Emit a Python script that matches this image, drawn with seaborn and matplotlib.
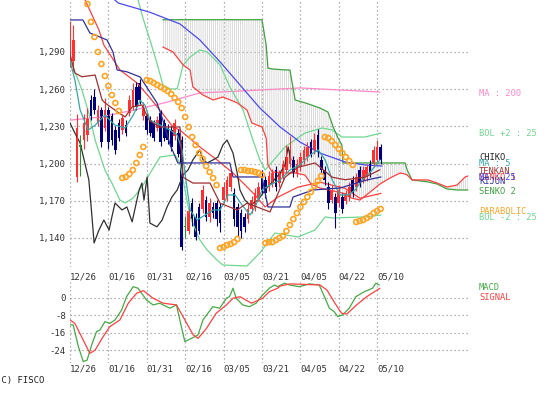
import matplotlib
matplotlib.use("Agg")
import matplotlib.pyplot as plt
import seaborn as sns
import numpy as np

# ---------------- data ----------------
dates = ['12/26', '01/16', '01/31', '02/16', '03/05', '03/21', '04/05', '04/22', '05/10']
date_pos = [0, 11, 22, 33, 44, 55, 66, 77, 88]

# candles: open, close, high, low, colour code (r=up, b=down, g=doji)
c_open = [1290, 1283, 1189, 1215, 1219, 1223, 1251, 1254, 1233, 1243,
          1229, 1243, 1238, 1227, 1233, 1227, 1231, 1241, 1246, 1262,
          1265, 1238, 1238, 1235, 1233, 1229, 1241, 1233, 1229, 1227,
          1222, 1225, 1219, 1150, 1146, 1168, 1157, 1165, 1163, 1171,
          1157, 1165, 1168, 1165, 1171, 1173, 1181, 1176, 1165, 1160,
          1157, 1155, 1163, 1165, 1173, 1189, 1187, 1181, 1184, 1195,
          1184, 1189, 1195, 1200, 1203, 1192, 1197, 1203, 1205, 1217,
          1211, 1223, 1203, 1195, 1181, 1171, 1173, 1168, 1173, 1170,
          1173, 1187, 1181, 1195, 1187, 1189, 1200, 1200, 1203, 1213]
c_close = [1296, 1300, 1229, 1213, 1233, 1237, 1238, 1243, 1243, 1217,
           1243, 1217, 1219, 1211, 1221, 1237, 1225, 1251, 1259, 1246,
           1251, 1246, 1227, 1225, 1221, 1235, 1217, 1221, 1219, 1213,
           1233, 1208, 1133, 1149, 1162, 1155, 1141, 1146, 1179, 1157,
           1168, 1160, 1155, 1152, 1181, 1187, 1192, 1155, 1149, 1146,
           1149, 1163, 1171, 1176, 1181, 1179, 1176, 1190, 1192, 1181,
           1192, 1200, 1205, 1211, 1192, 1200, 1205, 1211, 1213, 1208,
           1219, 1209, 1195, 1187, 1168, 1179, 1160, 1179, 1163, 1176,
           1181, 1176, 1189, 1184, 1195, 1197, 1192, 1211, 1213, 1203]
c_high = [1315, 1312, 1240, 1223, 1240, 1245, 1255, 1260, 1247, 1246,
          1253, 1246, 1241, 1230, 1236, 1240, 1235, 1255, 1265, 1266,
          1268, 1250, 1241, 1238, 1235, 1238, 1243, 1236, 1232, 1230,
          1236, 1228, 1222, 1158, 1167, 1172, 1160, 1168, 1183, 1174,
          1172, 1169, 1171, 1168, 1185, 1190, 1196, 1180, 1168, 1163,
          1160, 1167, 1174, 1180, 1185, 1195, 1190, 1194, 1196, 1198,
          1195, 1203, 1215, 1222, 1206, 1204, 1209, 1214, 1217, 1220,
          1225, 1228, 1206, 1198, 1185, 1183, 1176, 1183, 1176, 1179,
          1185, 1190, 1192, 1198, 1198, 1200, 1203, 1214, 1219, 1216]
c_low = [1278, 1275, 1185, 1190, 1212, 1218, 1235, 1240, 1230, 1213,
         1226, 1212, 1215, 1208, 1218, 1224, 1222, 1238, 1243, 1243,
         1248, 1235, 1224, 1222, 1218, 1226, 1214, 1218, 1216, 1210,
         1219, 1205, 1130, 1140, 1143, 1150, 1138, 1143, 1160, 1154,
         1153, 1156, 1150, 1145, 1168, 1170, 1178, 1150, 1142, 1140,
         1145, 1152, 1160, 1162, 1170, 1176, 1172, 1178, 1181, 1178,
         1181, 1186, 1192, 1197, 1189, 1189, 1194, 1200, 1202, 1205,
         1208, 1205, 1192, 1183, 1163, 1168, 1148, 1165, 1160, 1167,
         1170, 1173, 1178, 1181, 1184, 1186, 1189, 1197, 1200, 1200]
c_kind = list("rrrgrrbbrbrbbbbrbrrbbrbbbrbbbbrbbgrbbbrbrbbbrrrbbbbrrrrbbrrbrrrrbrrrrbrbbbbrbrbrrbrbrrbrrb")

# moving average 200 (pink)
ma200_x = [0, 8.6, 18.1, 27.8, 37.2, 43.0, 54.4, 65.9, 77.4, 88.8]
ma200_y = [1235, 1237.5, 1243, 1249.5, 1257, 1257.7, 1259.3, 1261, 1259.3, 1257.7]

# long moving average (blue)
ma25_x = [12.0, 13.8, 22.9, 31.5, 37.2, 43.0, 48.7, 54.4, 60.2, 65.9, 71.6, 78.8, 84.5, 89.4]
ma25_y = [1334, 1329.5, 1322, 1312.6, 1299.7, 1282, 1263.4, 1244.8, 1229.5, 1217.4, 1208.5, 1201.3, 1198.9, 1198]

# second red average line
red_x = [4.3, 8.3, 9.7, 14.3, 19.2, 22.9, 26.4, 29.5, 31.5, 37.2, 42.1, 46.7, 49.6, 53.0, 55.9,
         59.6, 65.3, 71.6, 78.8, 83.1, 89.1]
red_y = [1332, 1307.7, 1295.6, 1275.5, 1265, 1253, 1240.8, 1229.5, 1227, 1213.4, 1203, 1192.4,
         1184.3, 1174.7, 1165, 1173, 1181, 1185, 1180, 1172, 1176]

# MA 5 (teal)
ma5_x = [-0.3, 1.4, 2.9, 5.2, 7.2, 10.0, 12.9, 15.8, 18.1, 20.1, 21.5, 22.9, 25.8, 28.7, 30.7,
         32.1, 33.2, 34.4, 36.4, 38.7, 41.0, 43.0, 45.3, 47.3, 49.3, 51.6, 53.3, 55.0, 57.3,
         60.2, 63.0, 65.9, 68.8, 71.1, 73.1, 75.1, 77.4, 79.7, 81.7, 83.7, 86.0, 88.8]
ma5_y = [1286, 1267.4, 1243.2, 1227, 1231, 1239, 1231, 1228.7, 1239, 1251, 1247, 1235, 1231,
         1227, 1223, 1211, 1187, 1162.6, 1154.5, 1158.5, 1162.6, 1162.6, 1174.7, 1174.7, 1166.6,
         1158.5, 1166.6, 1178.7, 1182.7, 1186.8, 1194.8, 1199, 1207, 1211, 1203, 1187, 1174.7,
         1174.7, 1178.7, 1187, 1193, 1203]

# ichimoku: tenkan, kijun, chiko
tenkan_x = [-0.3, 1.4, 3.4, 7.2, 9.2, 10.0, 14.0, 15.8, 17.8, 20.6, 22.6, 25.5, 31.5, 32.4, 35.2,
            40.1, 43.0, 47.9, 50.7, 53.6, 57.3, 61.6, 65.3, 70.2, 75.1, 78.8, 84.5, 88.8]
tenkan_y = [1291.6, 1273, 1270, 1271.4, 1251.3, 1249, 1240.8, 1237.6, 1245.6, 1247.3, 1235.2,
            1229.5, 1229.5, 1189, 1184.3, 1184.3, 1168, 1162.6, 1168, 1165, 1161, 1189, 1197,
            1200.5, 1189, 1187, 1189, 1195]
kijun_x = [0, 3.7, 5.7, 8.6, 10.6, 12.3, 13.5, 16.3, 20.1, 24.9, 26.6, 28.7, 30.9, 45.8, 46.7,
           55.0, 56.7, 63.0, 63.9, 69.6, 77.4, 85.1, 89.1]
kijun_y = [1315.8, 1315.8, 1305.3, 1302, 1299.7, 1290, 1275.5, 1274, 1269.8, 1249, 1235.2, 1215,
           1200.5, 1200.5, 1189.2, 1189.2, 1165, 1165, 1173, 1178.7, 1180.3, 1186.8, 1189.2]
chiko_x = [0, 1.4, 2.9, 5.4, 6.3, 6.9, 8.3, 9.7, 11.2, 12.0, 12.9, 14.9, 16.3, 17.8, 19.8, 20.6,
           21.2, 22.1, 22.9, 24.9, 26.4, 27.8, 29.2, 30.7, 32.4, 33.8, 35.2, 37.2, 38.1, 39.3,
           41.0, 42.4, 43.8, 45.0, 46.7, 47.9, 48.7, 50.1, 51.6, 53.9, 55.9, 57.9, 60.2, 61.6,
           62.5, 63.3]
chiko_y = [1232.7, 1224.6, 1216.6, 1186.8, 1157, 1136, 1146.4, 1154.5, 1146.4, 1157, 1168.2,
           1162.6, 1165, 1153, 1178.7, 1184.3, 1170.6, 1189.2, 1152, 1149, 1154.5, 1165, 1173,
           1178.7, 1190.8, 1194.8, 1203, 1211, 1203, 1200.5, 1203, 1205.3, 1215, 1219, 1208.5,
           1192.4, 1178.7, 1170.6, 1166.6, 1170.6, 1178.7, 1185, 1192.4, 1199, 1213.4, 1203]

# cloud (senko spans share x)
cloud_x = [26.6, 29.5, 32.4, 34.4, 35.2, 38.1, 41.0, 43.8, 47.9, 50.7, 52.1, 55.0, 56.2, 56.7,
           57.9, 61.6, 63.0, 64.5, 67.3, 69.1, 71.6, 73.9, 75.4, 76.8, 77.9, 78.2, 80.5, 83.1,
           86.0, 88.8, 91.7, 94.6, 96.0, 96.6, 98.0, 100.3, 102.6, 105.2, 108.0, 110.9, 113.2, 114.0]
senko2 = [1316, 1316, 1316, 1316, 1316, 1316, 1316, 1316, 1316, 1316, 1316, 1316, 1295.6,
          1277, 1276.3, 1275.5, 1275.5, 1251.3, 1249, 1247.3, 1244.8, 1241.6, 1229.5, 1220.6,
          1215, 1200.5, 1200.5, 1200.5, 1200.5, 1200.5, 1200.5, 1200.5, 1200.5, 1194.8, 1186.8,
          1186, 1185.2, 1183.5, 1179.5, 1178.7, 1178.7, 1178.7]
senko1 = [1294, 1290, 1279.5, 1275.5, 1261.8, 1255.3, 1251.3, 1253.7, 1249, 1243.2, 1232.7,
          1229.5, 1220.6, 1198.9, 1193.2, 1192.4, 1192.4, 1192.4, 1190.8, 1183.5, 1180.3, 1178.7,
          1177.9, 1177.1, 1176.3, 1176.3, 1172.3, 1170.6, 1177.1, 1183.5, 1188.4, 1192.4,
          1191.6, 1190.8, 1186.8, 1186.8, 1186.8, 1184.3, 1181.1, 1182.7, 1189.2, 1190]

# bollinger bands
bolu_x = [19.5, 20.9, 22.9, 24.9, 26.6, 28.7, 30.7, 32.4, 34.4, 37.2, 39.3, 43.0, 45.8, 49.6,
          52.4, 54.4, 55.9, 61.6, 67.3, 72.2, 75.1, 77.9, 84.5, 89.1]
bolu_y = [1332, 1317.4, 1299.7, 1281.1, 1263.4, 1260.2, 1260.2, 1279.5, 1285.9, 1291.6, 1290,
          1279.5, 1261.8, 1243.2, 1219, 1203, 1194.8, 1213.4, 1224.6, 1228.7, 1227.1, 1221.4,
          1221.4, 1224.6]
boll_x = [-0.3, 2.0, 3.4, 5.4, 7.2, 10.0, 12.0, 14.3, 15.8, 18.1, 20.6, 23.5, 25.8, 30.1, 31.5,
          34.4, 37.2, 39.3, 42.1, 43.8, 50.7, 54.4, 58.7, 65.3, 70.2, 73.1, 75.1, 84.5, 89.1]
boll_y = [1286, 1269.8, 1259.4, 1240.8, 1219, 1194.8, 1184.3, 1170.6, 1168.2, 1172.2, 1181.1,
          1194.8, 1205.3, 1207, 1200.5, 1157, 1138.4, 1130.3, 1122.2, 1118.2, 1117.4, 1128,
          1144, 1140.8, 1146.4, 1157, 1156.1, 1157, 1158.5]

# parabolic SAR
sar_x = list(range(5, 15)) + list(range(15, 22)) + list(range(22, 43)) + list(range(43, 49)) \
    + list(range(49, 56)) + list(range(56, 73)) + list(range(73, 82)) + list(range(82, 90))
sar_y = [1328.7, 1314.2, 1302.1, 1290, 1280.3, 1270.6, 1262.6, 1255.3, 1248.9, 1242.4,
         1188.4, 1189.2, 1191.6, 1194.8, 1200.5, 1206.9, 1213.4,
         1267.4, 1266.6, 1265, 1263.4, 1261.8, 1260.1, 1258.5, 1256.1, 1252.9, 1249.6, 1244.8,
         1237.6, 1229.5, 1221.4, 1215, 1208.5, 1203.7, 1198, 1193.2, 1188.4, 1182.7,
         1131.9, 1132.7, 1134.3, 1135.1, 1136.7, 1139.2,
         1194.8, 1194.8, 1194, 1194, 1193.2, 1192.4, 1190.8,
         1135.9, 1136.7, 1136.7, 1138.3, 1140, 1141.6, 1145.6, 1150.5, 1155.3, 1160.1, 1165,
         1169, 1173.1, 1177.1, 1181.9, 1186, 1190,
         1221.4, 1220.6, 1218.2, 1215, 1211.8, 1208.5, 1205.3, 1202.1, 1198.9,
         1152.9, 1153.7, 1154.5, 1156.1, 1157.7, 1160.1, 1161.8, 1163.4]

# MACD pane
macd_x = [0, 0.9, 2.4, 3.8, 4.9, 6.2, 7.6, 8.6, 10, 11.4, 12.9, 14.8, 16.2, 18.1, 19.5, 21.9,
          23.8, 25.7, 28.6, 30.5, 31.9, 32.9, 34.8, 36.7, 38.1, 40.9, 42.9, 44.8, 45.7, 46.7,
          47.6, 49.5, 51.4, 53.3, 55.2, 57.1, 58.6, 59.5, 61.4, 62.9, 65.7, 68.6, 71.4, 72.9,
          74.3, 75.7, 76.7, 78.1, 80, 81.9, 84.3, 86.7, 87.6, 88.6]
macd_y = [-12.4, -12.4, -22.4, -29.3, -28.6, -21.7, -15.5, -14.7, -10.9, -11.7, -10.1, -5.5,
          0.6, 5.2, 4.5, -0.9, -3.2, -2.4, -4.7, -3.2, -13.2, -20.1, -18.6, -17, -10.1, -4,
          -4.7, -0.1, 0.6, 4.5, -0.1, -3.2, -4, -2.4, 1.4, 4.5, 6, 5.2, 6.8, 6, 5.2, 6.5, 6,
          0.6, -4.7, -6.3, -8.6, -7.8, -4.7, 0.6, 2.9, 4.5, 6.8, 6]
signal_x = [0, 1.4, 3.3, 5.7, 7.2, 9.5, 11.4, 14.3, 16.7, 19.1, 21.0, 23.8, 26.7, 30.5, 32.9,
            35.3, 36.7, 39.1, 41.9, 44.8, 46.7, 48.7, 52.0, 55.2, 57.1, 59.5, 60.2, 63.0, 71.6,
            73.6, 75.9, 77.8, 79.3, 82.1, 85.0, 88.8]
signal_y = [-10.1, -11.7, -17.8, -25.5, -24, -17.8, -13.2, -10.1, -2.4, 2.2, 3.4, -0.1, -2.4,
            -3.2, -10.1, -17, -18.6, -14, -7, -3.2, -0.1, 0.6, -2.4, -0.1, 2.9, 4.5, 5.5, 6.5,
            6, 3.7, -2.4, -7, -7.4, -3.2, 0.6, 4.5]

# ---------------- drawing ----------------
sns.set_style("white")
plt.rcParams['font.family'] = ['DejaVu Sans Mono']
plt.rcParams['hatch.linewidth'] = 0.5

fig = plt.figure(figsize=(5.53, 3.94), dpi=100)
ax = fig.add_axes([70 / 553, 1 - 267 / 394, 400 / 553, 267 / 394])
ax2 = fig.add_axes([70 / 553, 1 - 363 / 394, 400 / 553, 81 / 394])

grid_kw = dict(color='#9a9a9a', linestyle=(0, (1, 2.2)), linewidth=0.9)
for a in (ax, ax2):
    a.set_xlim(0, 114.6)
    for s in a.spines.values():
        s.set_visible(False)
    a.grid(True, **grid_kw)
    a.set_axisbelow(True)
    a.tick_params(length=0, labelsize=6.5, colors='#333333')
    a.tick_params(axis='y', pad=3)
    a.set_xticks(date_pos)
    a.set_xticklabels(dates, ha='left')
ax.tick_params(axis='x', pad=4)
ax2.tick_params(axis='x', pad=1)

ax.set_ylim(1116.6, 1331.9)
ax.set_yticks([1140, 1170, 1200, 1230, 1260, 1290])
ax.set_yticklabels(['1,140', '1,170', '1,200', '1,230', '1,260', '1,290'])

# cloud hatch
ax.fill_between(cloud_x, senko1, senko2, facecolor='none', edgecolor='#cccccc',
                hatch='||||||||', linewidth=0)

def line(a, x, y, color, lw=0.9):
    sns.lineplot(x=x, y=y, ax=a, color=color, linewidth=lw, sort=False, estimator=None)

line(ax, ma200_x, ma200_y, '#ff88c8')
line(ax, bolu_x, bolu_y, '#6fd890')
line(ax, boll_x, boll_y, '#6fd890')
line(ax, cloud_x, senko2, '#3fa03f')
line(ax, cloud_x, senko1, '#ff4040')
line(ax, red_x, red_y, '#ff4040')
line(ax, ma25_x, ma25_y, '#4a4af0')
line(ax, chiko_x, chiko_y, '#303030')

# candles
idx = np.arange(len(c_open))
cmap = {'r': '#ff3030', 'b': '#00007a', 'g': '#2f8f2f'}
cols = [cmap[k] for k in c_kind]
ax.vlines(idx, c_low, c_high, colors=cols, linewidth=0.8)
bottoms = np.minimum(c_open, c_close)
heights = np.maximum(np.abs(np.array(c_close) - np.array(c_open)), 0.8)
ax.bar(idx, heights, bottom=bottoms, width=0.75, color=cols, linewidth=0)

line(ax, ma5_x, ma5_y, '#33a8a8')
line(ax, tenkan_x, tenkan_y, '#a03030')
line(ax, kijun_x, kijun_y, '#30309a')

ax.scatter(sar_x, sar_y, s=13, facecolors='none', edgecolors='#ffa422', linewidths=1.2, zorder=5)

# MACD pane
ax2.set_ylim(-29.95, 7.37)
ax2.set_yticks([0, -8, -16, -24])
ax2.set_yticklabels(['0', '-8', '-16', '-24'])
line(ax2, macd_x, macd_y, '#44aa44')
line(ax2, signal_x, signal_y, '#ff4040')

# labels on the right (they overlap in the original too)
labels = [("MA : 200", '#ff88c8', 93), ("BOL +2 : 25", '#6fd890', 134),
          ("CHIKO", '#202020', 158), ("MA : 5", '#33a8a8', 163),
          ("TENKAN", '#a03030', 172), ("SENKO 1", '#ff4040', 177),
          ("MA : 25", '#4a4af0', 177), ("KIJUN", '#30309a', 182),
          ("SENKO 2", '#3fa03f', 191), ("PARABOLIC", '#ffa422', 211),
          ("BOL -2 : 25", '#6fd890', 218), ("MACD", '#44aa44', 288),
          ("SIGNAL", '#ff4040', 298)]
for txt, col, ypx in labels:
    fig.text(479 / 553, 1 - ypx / 394, txt, color=col, fontsize=6.3, va='center', ha='left')

fig.text(-4 / 553, 1 - 380 / 394, "(C) FISCO", color='#202020', fontsize=6.5, va='center', ha='left')

fig.savefig("out.png", dpi=100)
